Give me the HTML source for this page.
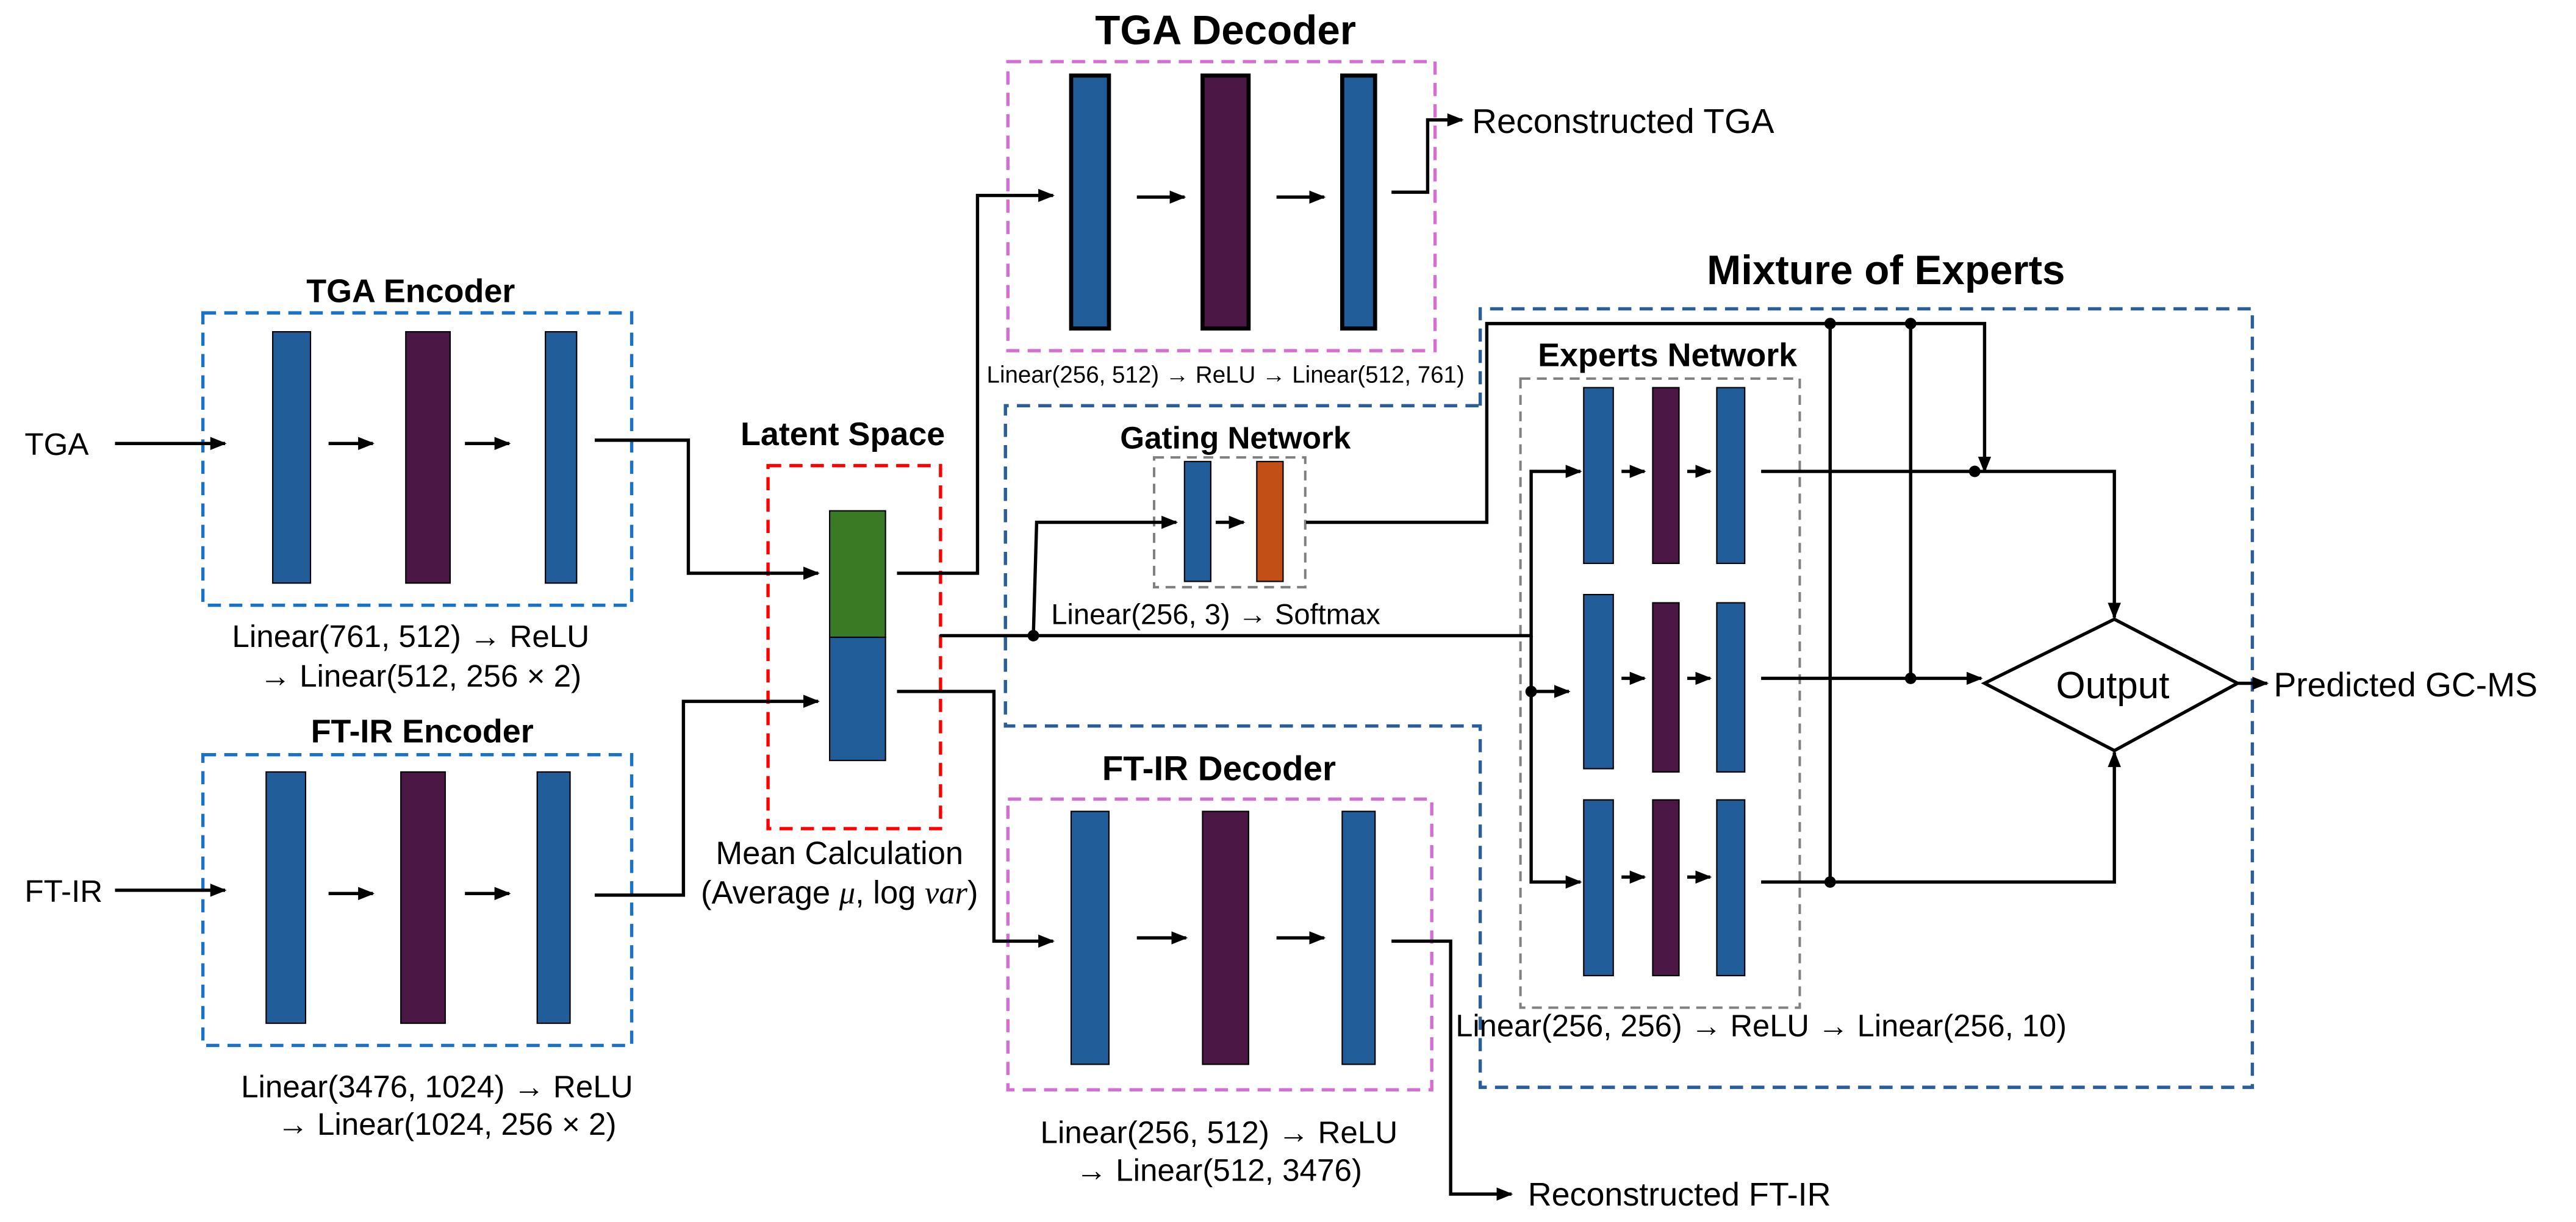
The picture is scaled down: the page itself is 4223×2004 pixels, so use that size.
<!DOCTYPE html>
<html><head><meta charset="utf-8"><style>
html,body{margin:0;padding:0;background:#fff;}
svg{display:block;}
text{font-family:"Liberation Sans","DejaVu Sans",sans-serif;fill:#000;}
.b{font-weight:bold;}
</style></head><body>
<svg width="4223" height="2004" viewBox="0 0 1568 744" preserveAspectRatio="none" xmlns="http://www.w3.org/2000/svg">
<defs>
<marker id="a" markerUnits="userSpaceOnUse" markerWidth="10" markerHeight="10" refX="9" refY="5" orient="auto"><path d="M0,1 L10,5 L0,9 z" fill="#000"/></marker>
</defs>
<g fill="none" stroke-width="2" stroke-dasharray="8,5">
<rect x="123.5" y="190.5" width="261" height="178" stroke="#1a72c6"/>
<rect x="123.5" y="459.5" width="261" height="177" stroke="#1a72c6"/>
<rect x="467.5" y="283.5" width="105" height="221" stroke="#ff0000"/>
<rect x="613.5" y="37.5" width="260" height="176" stroke="#d36fd0"/>
<rect x="613.5" y="486.5" width="258" height="177" stroke="#d36fd0"/>
<path d="M901,247 V188 H1371 V662 H901 V442 H612 V247 Z" stroke="#2a5d9a"/>
<rect x="925.5" y="230.5" width="170" height="383" stroke="#808080" stroke-width="1.5" stroke-dasharray="6,4"/>
<rect x="702.5" y="278.5" width="92" height="79" stroke="#808080" stroke-width="1.5" stroke-dasharray="6,4"/>
</g>
<g stroke="#000" stroke-width="0.8">
<rect x="166" y="202" width="23" height="153" fill="#215e99"/>
<rect x="247" y="202" width="27" height="153" fill="#4b1846"/>
<rect x="332" y="202" width="19" height="153" fill="#215e99"/>
<rect x="162" y="470" width="24" height="153" fill="#215e99"/>
<rect x="244" y="470" width="27" height="153" fill="#4b1846"/>
<rect x="327" y="470" width="20" height="153" fill="#215e99"/>
<rect x="505" y="311" width="34" height="77" fill="#3b7a25"/>
<rect x="505" y="388" width="34" height="75" fill="#215e99"/>
<rect x="652" y="494" width="23" height="154" fill="#215e99"/>
<rect x="732" y="494" width="28" height="154" fill="#4b1846"/>
<rect x="817" y="494" width="20" height="154" fill="#215e99"/>
<rect x="721" y="281" width="16" height="73" fill="#215e99"/>
<rect x="765" y="281" width="16" height="73" fill="#c14f16"/>
<rect x="964" y="236" width="18" height="107" fill="#215e99"/>
<rect x="1006" y="236" width="16" height="107" fill="#4b1846"/>
<rect x="1045" y="236" width="17" height="107" fill="#215e99"/>
<rect x="964" y="362" width="18" height="106" fill="#215e99"/>
<rect x="1006" y="367" width="16" height="103" fill="#4b1846"/>
<rect x="1045" y="367" width="17" height="103" fill="#215e99"/>
<rect x="964" y="487" width="18" height="107" fill="#215e99"/>
<rect x="1006" y="487" width="16" height="107" fill="#4b1846"/>
<rect x="1045" y="487" width="17" height="107" fill="#215e99"/>
</g>
<g stroke="#000" stroke-width="2.5">
<rect x="652" y="46" width="23" height="154" fill="#215e99"/>
<rect x="732" y="46" width="28" height="154" fill="#4b1846"/>
<rect x="817" y="46" width="20" height="154" fill="#215e99"/>
</g>
<g fill="none" stroke="#000" stroke-width="2" marker-end="url(#a)">
<path d="M70,270 H137"/><path d="M200,270 H227"/><path d="M283,270 H310"/>
<path d="M70,542 H137"/><path d="M200,544 H227"/><path d="M283,544 H310"/>
<path d="M362,268 H419 V349 H498"/>
<path d="M362,545 H416 V427 H498"/>
<path d="M546,349 H595 V119 H641"/>
<path d="M692,120 H721"/><path d="M777,120 H806"/>
<path d="M847,117 H869 V73 H890"/>
<path d="M546,421 H605 V573 H641"/>
<path d="M692,571 H722"/><path d="M777,571 H806"/>
<path d="M847,573 H883 V727 H920"/>
<path d="M629,387 L631,318 H716"/>
<path d="M740,318 H757"/>
<path d="M795,318 H905 V197 H1208 V287"/>
<path d="M572,387 H932 V287 H962"/>
<path d="M932,387 V537 H962"/>
<path d="M932,421 H955"/>
<path d="M987,287 H1001"/><path d="M1027,287 H1041"/>
<path d="M987,413 H1001"/><path d="M1027,413 H1041"/>
<path d="M987,534 H1001"/><path d="M1027,534 H1041"/>
<path d="M1072,287 H1287 V376"/>
<path d="M1072,413 H1206"/>
<path d="M1072,537 H1287 V458"/>
<path d="M1362,416 H1380"/>
</g>
<g fill="none" stroke="#000" stroke-width="2">
<path d="M1114,197 V537"/><path d="M1163,197 V413"/>
<polygon points="1208,416 1287,377 1362,416 1287,457"/>
</g>
<g fill="#000">
<circle cx="629" cy="387" r="3.5"/><circle cx="932" cy="421" r="3.5"/>
<circle cx="1114" cy="197" r="3.5"/><circle cx="1163" cy="197" r="3.5"/>
<circle cx="1202" cy="287" r="3.5"/><circle cx="1163" cy="413" r="3.5"/>
<circle cx="1114" cy="537" r="3.5"/>
</g>
<g text-anchor="middle">
<text class="b" x="250" y="184" font-size="20">TGA Encoder</text>
<text class="b" x="257" y="452" font-size="20">FT-IR Encoder</text>
<text class="b" x="513" y="271" font-size="20">Latent Space</text>
<text class="b" x="746" y="27" font-size="25">TGA Decoder</text>
<text class="b" x="742" y="475" font-size="21">FT-IR Decoder</text>
<text class="b" x="1148" y="173" font-size="25">Mixture of Experts</text>
<text class="b" x="1015" y="223" font-size="20">Experts Network</text>
<text class="b" x="752" y="273" font-size="19">Gating Network</text>
<text x="250" y="394" font-size="19">Linear(761, 512) → ReLU</text>
<text x="256" y="418" font-size="19">→ Linear(512, 256 × 2)</text>
<text x="266" y="668" font-size="19">Linear(3476, 1024) → ReLU</text>
<text x="272" y="691" font-size="19">→ Linear(1024, 256 × 2)</text>
<text x="511" y="526" font-size="19.5">Mean Calculation</text>
<text x="511" y="550" font-size="19.5">(Average <tspan font-family="Liberation Serif" font-style="italic">μ</tspan>, log <tspan font-family="Liberation Serif" font-style="italic">var</tspan>)</text>
<text x="746" y="233" font-size="14.3">Linear(256, 512) → ReLU → Linear(512, 761)</text>
<text x="740" y="380" font-size="17.5">Linear(256, 3) → Softmax</text>
<text x="742" y="696" font-size="19">Linear(256, 512) → ReLU</text>
<text x="742" y="719" font-size="19">→ Linear(512, 3476)</text>
<text x="1072" y="631" font-size="18.8">Linear(256, 256) → ReLU → Linear(256, 10)</text>
<text x="1286" y="425" font-size="23">Output</text>
</g>
<text x="15" y="277" font-size="19">TGA</text>
<text x="15" y="549" font-size="19">FT-IR</text>
<text x="896" y="81" font-size="21">Reconstructed TGA</text>
<text x="930" y="734" font-size="20">Reconstructed FT-IR</text>
<text x="1384" y="424" font-size="20.5">Predicted GC-MS</text>
</svg>
</body></html>
